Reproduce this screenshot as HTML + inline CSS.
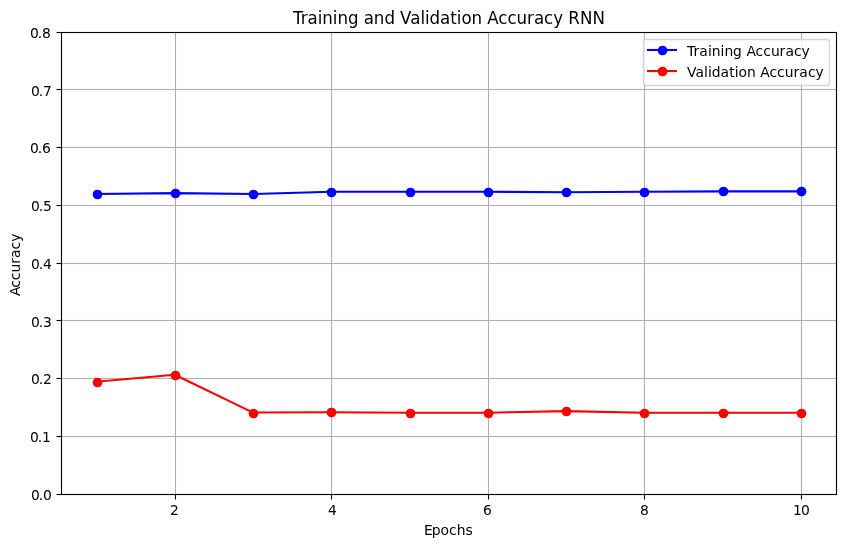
<!DOCTYPE html>
<html lang="en">
<head>
<meta charset="utf-8">
<title>Training and Validation Accuracy RNN</title>
<style>
html,body{margin:0;padding:0;background:#fff;}
body{width:846px;height:547px;overflow:hidden;}
svg{display:block;}
text{font-family:"DejaVu Sans","Liberation Sans",sans-serif;fill:#000;}
.t10{font-size:13.889px;}
.t12{font-size:16.667px;}
.grid line{stroke:#b0b0b0;stroke-width:1;}
.gridf line{stroke:#b0b0b0;stroke-opacity:0.063;stroke-width:1;}
.tick line{stroke:#000;stroke-width:1.111;}
</style>
</head>
<body>
<svg width="846" height="547" viewBox="0 0 846 547">
<rect x="0" y="0" width="846" height="547" fill="#ffffff"/>
<g class="gridf">
<line x1="174.5" y1="33" x2="174.5" y2="494"/>
<line x1="176.5" y1="33" x2="176.5" y2="494"/>
<line x1="330.5" y1="33" x2="330.5" y2="494"/>
<line x1="332.5" y1="33" x2="332.5" y2="494"/>
<line x1="487.5" y1="33" x2="487.5" y2="494"/>
<line x1="489.5" y1="33" x2="489.5" y2="494"/>
<line x1="643.5" y1="33" x2="643.5" y2="494"/>
<line x1="645.5" y1="33" x2="645.5" y2="494"/>
<line x1="800.5" y1="33" x2="800.5" y2="494"/>
<line x1="802.5" y1="33" x2="802.5" y2="494"/>
<line x1="62" y1="88.5" x2="836" y2="88.5"/>
<line x1="62" y1="90.5" x2="836" y2="90.5"/>
<line x1="62" y1="146.5" x2="836" y2="146.5"/>
<line x1="62" y1="148.5" x2="836" y2="148.5"/>
<line x1="62" y1="204.5" x2="836" y2="204.5"/>
<line x1="62" y1="206.5" x2="836" y2="206.5"/>
<line x1="62" y1="262.5" x2="836" y2="262.5"/>
<line x1="62" y1="264.5" x2="836" y2="264.5"/>
<line x1="62" y1="319.5" x2="836" y2="319.5"/>
<line x1="62" y1="321.5" x2="836" y2="321.5"/>
<line x1="62" y1="377.5" x2="836" y2="377.5"/>
<line x1="62" y1="379.5" x2="836" y2="379.5"/>
<line x1="62" y1="435.5" x2="836" y2="435.5"/>
<line x1="62" y1="437.5" x2="836" y2="437.5"/>
</g>
<g class="grid">
<line x1="175.5" y1="32" x2="175.5" y2="495"/>
<line x1="331.5" y1="32" x2="331.5" y2="495"/>
<line x1="488.5" y1="32" x2="488.5" y2="495"/>
<line x1="644.5" y1="32" x2="644.5" y2="495"/>
<line x1="801.5" y1="32" x2="801.5" y2="495"/>
<line x1="61" y1="89.5" x2="837" y2="89.5"/>
<line x1="61" y1="147.5" x2="837" y2="147.5"/>
<line x1="61" y1="205.5" x2="837" y2="205.5"/>
<line x1="61" y1="263.5" x2="837" y2="263.5"/>
<line x1="61" y1="320.5" x2="837" y2="320.5"/>
<line x1="61" y1="378.5" x2="837" y2="378.5"/>
<line x1="61" y1="436.5" x2="837" y2="436.5"/>
</g>
<g class="tick">
<line x1="175.5" y1="494.5" x2="175.5" y2="499.5"/>
<line x1="331.5" y1="494.5" x2="331.5" y2="499.5"/>
<line x1="488.5" y1="494.5" x2="488.5" y2="499.5"/>
<line x1="644.5" y1="494.5" x2="644.5" y2="499.5"/>
<line x1="801.5" y1="494.5" x2="801.5" y2="499.5"/>
<line x1="56.5" y1="32.5" x2="61.5" y2="32.5"/>
<line x1="56.5" y1="89.5" x2="61.5" y2="89.5"/>
<line x1="56.5" y1="147.5" x2="61.5" y2="147.5"/>
<line x1="56.5" y1="205.5" x2="61.5" y2="205.5"/>
<line x1="56.5" y1="263.5" x2="61.5" y2="263.5"/>
<line x1="56.5" y1="320.5" x2="61.5" y2="320.5"/>
<line x1="56.5" y1="378.5" x2="61.5" y2="378.5"/>
<line x1="56.5" y1="436.5" x2="61.5" y2="436.5"/>
<line x1="56.5" y1="494.5" x2="61.5" y2="494.5"/>
</g>
<g>
<polyline fill="none" stroke="#0000ff" stroke-width="2.083" stroke-linejoin="round" stroke-linecap="square" points="96.51,194.0 174.79,193.13 253.07,194.0 331.35,191.69 409.64,191.69 487.92,191.69 566.2,192.27 644.48,191.69 722.77,191.4 801.05,191.34"/>
<circle cx="97.5" cy="194.5" r="4.86" fill="#0000ff"/>
<circle cx="175.5" cy="193.5" r="4.86" fill="#0000ff"/>
<circle cx="253.5" cy="194.5" r="4.86" fill="#0000ff"/>
<circle cx="331.5" cy="192.5" r="4.86" fill="#0000ff"/>
<circle cx="410.5" cy="192.5" r="4.86" fill="#0000ff"/>
<circle cx="488.5" cy="192.5" r="4.86" fill="#0000ff"/>
<circle cx="566.5" cy="192.5" r="4.86" fill="#0000ff"/>
<circle cx="644.5" cy="192.5" r="4.86" fill="#0000ff"/>
<circle cx="723.5" cy="191.5" r="4.86" fill="#0000ff"/>
<circle cx="801.5" cy="191.5" r="4.86" fill="#0000ff"/>
</g>
<g>
<polyline fill="none" stroke="#ff0000" stroke-width="2.083" stroke-linejoin="round" stroke-linecap="square" points="96.51,381.69 174.79,374.76 253.07,412.58 331.35,412.3 409.64,412.7 487.92,412.7 566.2,411.14 644.48,412.7 722.77,412.76 801.05,412.76"/>
<circle cx="97.5" cy="382.5" r="4.86" fill="#ff0000"/>
<circle cx="175.5" cy="375.5" r="4.86" fill="#ff0000"/>
<circle cx="253.5" cy="413.5" r="4.86" fill="#ff0000"/>
<circle cx="331.5" cy="412.5" r="4.86" fill="#ff0000"/>
<circle cx="410.5" cy="413.5" r="4.86" fill="#ff0000"/>
<circle cx="488.5" cy="413.5" r="4.86" fill="#ff0000"/>
<circle cx="566.5" cy="411.5" r="4.86" fill="#ff0000"/>
<circle cx="644.5" cy="413.5" r="4.86" fill="#ff0000"/>
<circle cx="723.5" cy="413.5" r="4.86" fill="#ff0000"/>
<circle cx="801.5" cy="413.5" r="4.86" fill="#ff0000"/>
</g>
<rect x="61.5" y="32.5" width="775" height="462" fill="none" stroke="#000" stroke-width="1.111" stroke-linejoin="miter"/>
<text class="t10" x="170" y="515">2</text>
<text class="t10" x="328" y="515">4</text>
<text class="t10" x="483" y="515">6</text>
<text class="t10" x="640" y="515">8</text>
<text class="t10" x="793 800.88" y="515">10</text>
<text class="t10" x="30 37.75 42.12" y="38">0.8</text>
<text class="t10" x="31 38.75 43.12" y="96">0.7</text>
<text class="t10" x="30 37.75 42.12" y="153">0.6</text>
<text class="t10" x="31 38.75 43.12" y="211">0.5</text>
<text class="t10" x="31 38.75 43.12" y="269">0.4</text>
<text class="t10" x="31 38.75 43.12" y="327">0.3</text>
<text class="t10" x="31 38.75 43.12" y="384">0.2</text>
<text class="t10" x="30 37.75 42.12" y="442">0.1</text>
<text class="t10" x="31 38.75 43.12" y="500">0.0</text>
<text class="t10" x="424 431.75 440.62 449.12 456.75 465.5" y="535">Epochs</text>
<text class="t12" x="293 300.75 307.62 317.75 322.38 332.88 337.5 348 358.5 363.75 373.88 384.38 394.88 400.12 410.25 420.38 425 429.62 440.12 450.25 456.75 461.38 471.5 482 487.25 498.38 507.5 516.62 527.12 534 544.12 553.25 563.12 568.38 580 592.5" y="0" transform="translate(0,24) scale(1,1.08)">Training and Validation Accuracy RNN</text>
<text class="t10" transform="translate(20,296) rotate(-90)" x="0 8.25 15.88 23.5 32.25 38 46.62 54.25" y="0">Accuracy</text>
<rect x="643.5" y="39.5" width="186" height="46" rx="2.78" ry="2.78" fill="#ffffff" fill-opacity="0.8" stroke="#cccccc" stroke-opacity="0.8" stroke-width="1.389"/>
<line x1="648" y1="50" x2="676" y2="50" stroke="#0000ff" stroke-width="2.083" stroke-linecap="square"/>
<circle cx="662.5" cy="50.5" r="4.86" fill="#0000ff"/>
<text class="t10" x="687 693.5 699.25 707.88 711.75 720.5 724.38 733.12 742 746.38 755.62 763.25 770.88 779.62 785.38 794 801.62" y="56">Training Accuracy</text>
<line x1="648" y1="71" x2="676" y2="71" stroke="#ff0000" stroke-width="2.083" stroke-linecap="square"/>
<circle cx="662.5" cy="71.5" r="4.86" fill="#ff0000"/>
<text class="t10" x="687 695.38 704 707.88 711.75 720.62 729.25 734.75 738.62 747.12 755.88 760.25 769.5 777.12 784.75 793.5 799.25 807.88 815.5" y="77">Validation Accuracy</text>
</svg>
</body>
</html>
